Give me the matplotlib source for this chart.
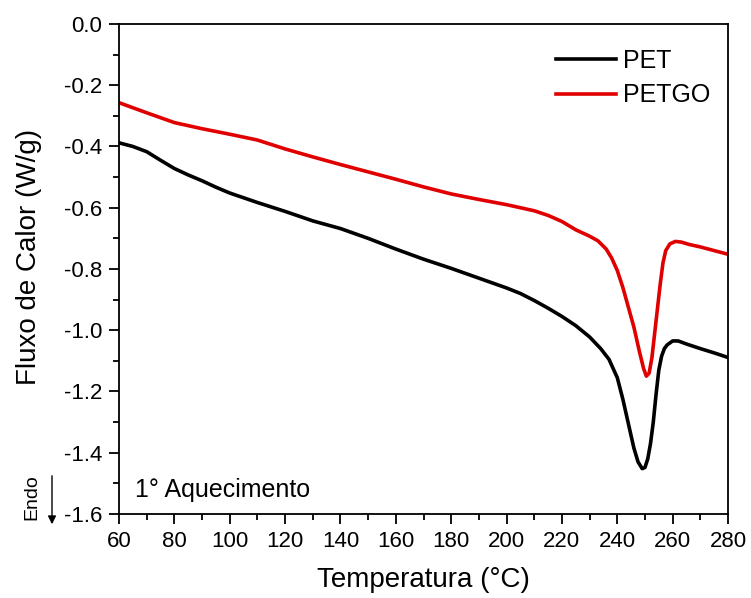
import matplotlib
matplotlib.use("Agg")
import matplotlib.pyplot as plt
from matplotlib.ticker import MultipleLocator, FormatStrFormatter
from matplotlib.patches import FancyArrowPatch

plt.rcParams['font.family'] = ['Liberation Sans', 'DejaVu Sans']

# DSC first heating curves
temp_pet = [60, 65, 70, 75, 80, 85, 90, 95, 100, 110, 120, 130, 140, 150, 160,
            170, 180, 190, 200, 205, 210, 215, 220, 225, 230, 234, 237, 240,
            242, 244, 246, 247.5, 249, 250, 251, 252, 253, 254, 255, 256, 257,
            258, 260, 262, 265, 270, 275, 280]
flux_pet = [-0.388, -0.400, -0.417, -0.445, -0.472, -0.493, -0.512, -0.533,
            -0.552, -0.583, -0.612, -0.643, -0.668, -0.700, -0.735, -0.768,
            -0.798, -0.830, -0.862, -0.880, -0.903, -0.928, -0.955, -0.985,
            -1.022, -1.060, -1.095, -1.155, -1.225, -1.305, -1.385, -1.430,
            -1.452, -1.448, -1.420, -1.370, -1.300, -1.210, -1.130, -1.085,
            -1.060, -1.048, -1.035, -1.035, -1.045, -1.060, -1.074, -1.089]

temp_petgo = [60, 70, 80, 90, 100, 110, 120, 130, 140, 150, 160, 170, 180, 190,
              200, 210, 215, 220, 225, 230, 233, 236, 238, 240, 242, 244, 246,
              248, 249.5, 250.5, 251.5, 252.5, 253.5, 254.5, 255.5, 256.5,
              257.5, 259, 261, 263, 266, 270, 275, 280]
flux_petgo = [-0.257, -0.290, -0.322, -0.342, -0.360, -0.379, -0.408, -0.434,
              -0.459, -0.483, -0.507, -0.532, -0.555, -0.573, -0.590, -0.610,
              -0.625, -0.645, -0.672, -0.693, -0.708, -0.735, -0.765, -0.805,
              -0.860, -0.925, -0.990, -1.070, -1.125, -1.150, -1.140, -1.090,
              -1.010, -0.930, -0.850, -0.780, -0.740, -0.718, -0.710, -0.712,
              -0.720, -0.728, -0.740, -0.752]

fig = plt.figure(figsize=(7.51, 5.98), dpi=100)
ax = fig.add_axes([0.1585, 0.1405, 0.8109, 0.8194])

ax.plot(temp_pet, flux_pet, color='black', lw=2.6, label='PET',
        solid_joinstyle='round')
ax.plot(temp_petgo, flux_petgo, color='#e00000', lw=2.6, label='PETGO',
        solid_joinstyle='round')

ax.set_xlim(60, 280)
ax.set_ylim(-1.6, 0.0)
ax.xaxis.set_major_locator(MultipleLocator(20))
ax.xaxis.set_minor_locator(MultipleLocator(10))
ax.yaxis.set_major_locator(MultipleLocator(0.2))
ax.yaxis.set_minor_locator(MultipleLocator(0.1))
ax.yaxis.set_major_formatter(FormatStrFormatter('%.1f'))

for s in ax.spines.values():
    s.set_linewidth(1.3)
ax.tick_params(which='major', direction='out', length=7, width=1.3,
               labelsize=16, pad=5)
ax.tick_params(which='minor', direction='out', length=4, width=1.3)

ax.set_xlabel('Temperatura (°C)', fontsize=20, labelpad=11)
ax.set_ylabel('Fluxo de Calor (W/g)', fontsize=20, labelpad=16)
ax.yaxis.label.set_y(0.525)

ax.legend(loc='upper right', frameon=False, fontsize=18, handlelength=2.4,
          handletextpad=0.3, labelspacing=0.42, borderaxespad=0.3,
          bbox_to_anchor=(1.0, 0.985))

ax.text(0.026, 0.049, '1° Aquecimento', transform=ax.transAxes,
        fontsize=18, va='center', ha='left')

# Endothermic direction indicator
fig.text(32 / 751, 1 - 497 / 598, 'Endo', rotation=90, fontsize=14,
         ha='center', va='center')
fig.add_artist(FancyArrowPatch(
    (52 / 751, 1 - 473 / 598), (52 / 751, 1 - 527 / 598),
    transform=fig.transFigure, arrowstyle='-|>', mutation_scale=12,
    color='black', lw=1.0))

fig.savefig('out.png', dpi=100)
